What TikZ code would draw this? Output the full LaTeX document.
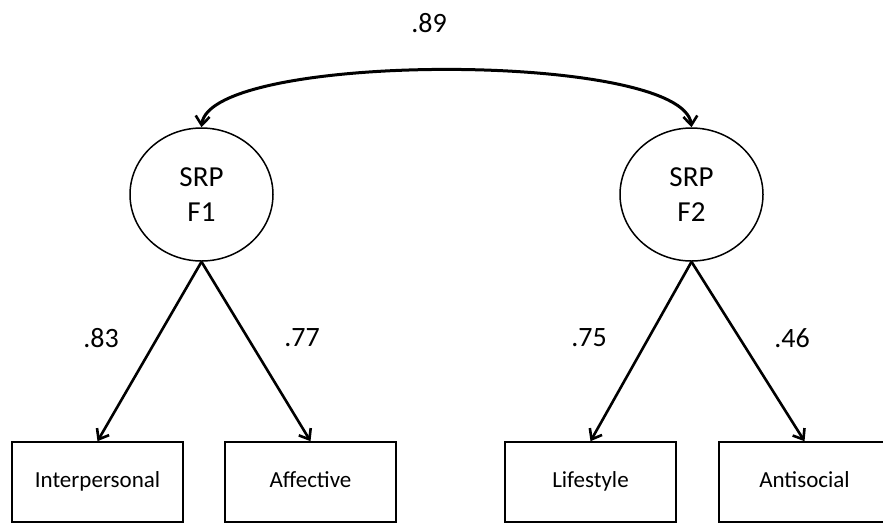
\documentclass[tikz,border=0pt]{standalone}
\usepackage{fontspec}
\setmainfont{Carlito}
\usetikzlibrary{arrows.meta,shapes.geometric}
\begin{document}
\begin{tikzpicture}[x=1pt,y=-1pt,
  latent/.style={draw,line width=1.5pt,ellipse,minimum width=143pt,minimum height=133pt,inner sep=0pt,align=center,font=\fontsize{29}{35}\selectfont},
  indicator/.style={draw,line width=1.6pt,rectangle,minimum width=171pt,minimum height=80pt,inner sep=0pt,text height=16pt,text depth=5pt,font=\fontsize{23}{27}\selectfont},
  coef/.style={font=\fontsize{28}{32}\selectfont,inner sep=0pt},
  loading/.style={line width=2.6pt,-{Straight Barb[length=9pt,width=14pt,line width=2.6pt]}},
  cov/.style={line width=3pt,{Straight Barb[length=9pt,width=14pt,line width=2.6pt]}-{Straight Barb[length=9pt,width=14pt,line width=2.6pt]}}
]
\clip (0,0) rectangle (883,523);
\fill[white] (0,0) rectangle (883,523);
\node[latent] (f1) at (201.5,194.5) {SRP\\F1};
\node[latent] (f2) at (691.5,194.5) {SRP\\F2};
\node[indicator] (ip) at (97.5,482) {Interpersonal};
\node[indicator] (af) at (310.5,482) {Affective};
\node[indicator] (ls) at (590.5,482) {Lifestyle};
\node[indicator] (as) at (804.5,482) {Antisocial};
\draw[loading] (f1.south) -- (ip.north);
\draw[loading] (f1.south) -- (af.north);
\draw[loading] (f2.south) -- (ls.north);
\draw[loading] (f2.south) -- (as.north);
\draw[cov] (f1.north) .. controls +(8,-76) and +(-8,-76) .. (f2.north);
\node[coef] (r) at (429,23) {.89};
\node[coef] (l1) at (101,338) {.83};
\node[coef] (l2) at (302,338) {.77};
\node[coef] (l3) at (589,338) {.75};
\node[coef] (l4) at (792,338) {.46};
\end{tikzpicture}
\end{document}
